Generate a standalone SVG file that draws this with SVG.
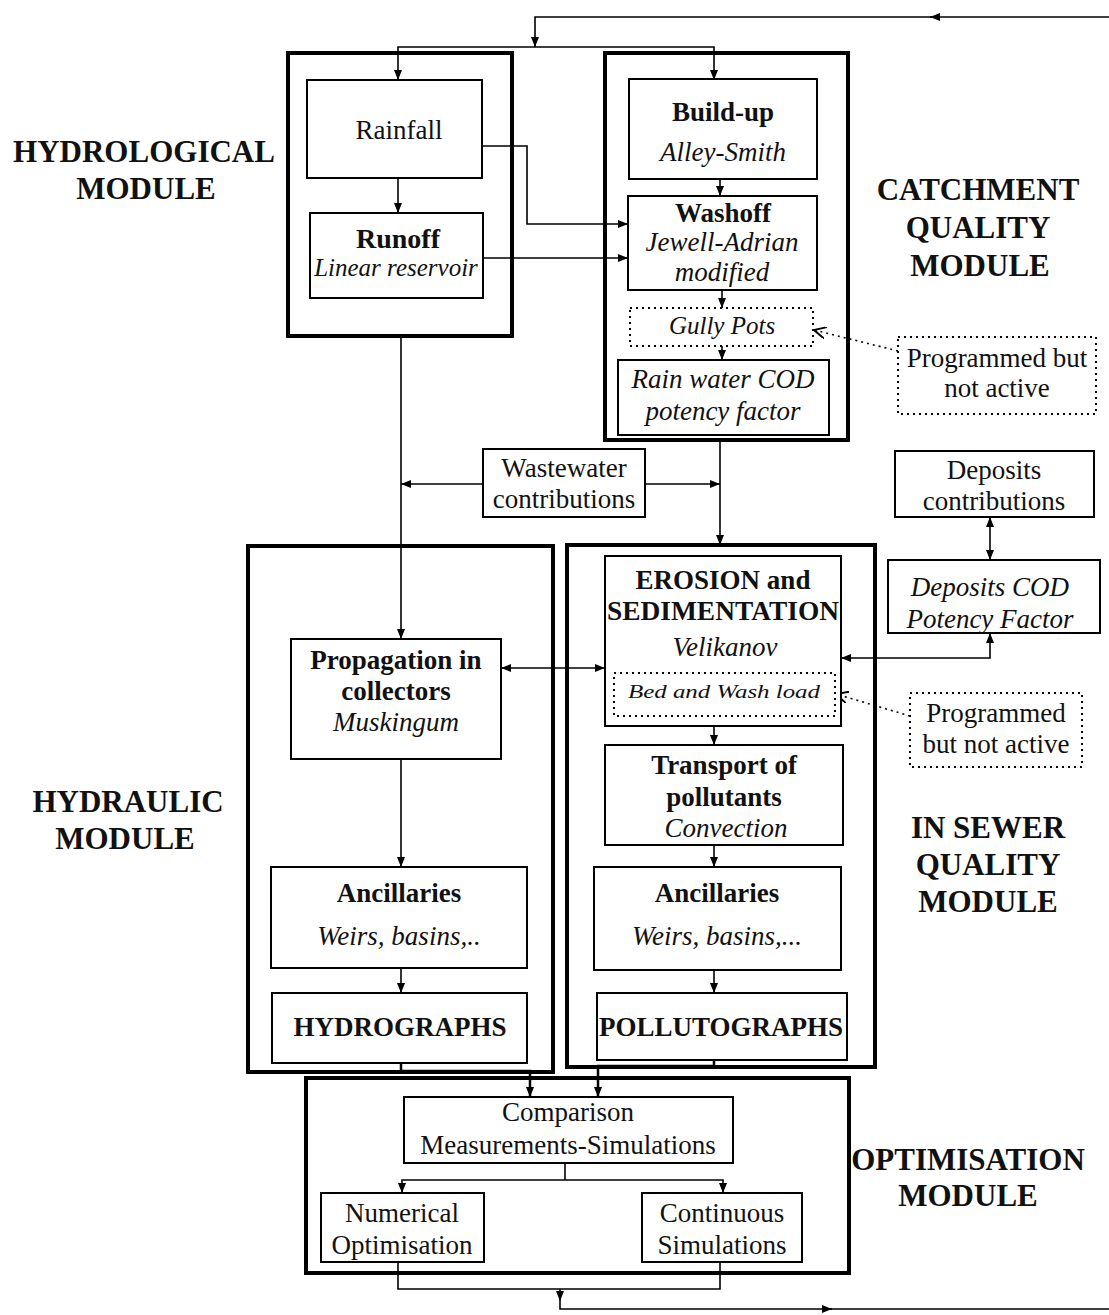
<svg xmlns="http://www.w3.org/2000/svg" width="1109" height="1315" viewBox="0 0 1109 1315">
  <style>
    text { font-family: "Liberation Serif", "Times New Roman", serif; fill: #111; text-anchor: middle; }
    .mod { font-size: 31px; font-weight: bold; }
    .t { font-size: 27px; }
    .b { font-size: 27px; font-weight: bold; }
    .i { font-size: 27px; font-style: italic; }
    .outer { fill: none; stroke: #000; stroke-width: 4; }
    .box { fill: #fff; stroke: #000; stroke-width: 2; }
    .dot { fill: #fff; stroke: #000; stroke-width: 2; stroke-dasharray: 2 4; }
    .c { fill: none; stroke: #000; stroke-width: 1.6; }
    .cd { fill: none; stroke: #000; stroke-width: 1.6; stroke-dasharray: 2 4; }
    .a { marker-end: url(#ah); }
    .aa { marker-start: url(#ah); marker-end: url(#ah); }
    .o { marker-end: url(#oh); }
  </style>
  <defs>
    <marker id="ah" viewBox="0 0 10 10" refX="10" refY="5" markerWidth="10" markerHeight="10" markerUnits="userSpaceOnUse" orient="auto-start-reverse">
      <path d="M0,1 L10,5 L0,9 z" fill="#000"/>
    </marker>
    <marker id="oh" viewBox="0 0 10 10" refX="10" refY="5" markerWidth="12" markerHeight="12" markerUnits="userSpaceOnUse" orient="auto">
      <path d="M0,0 L10,5 L0,10" fill="none" stroke="#000" stroke-width="1.6"/>
    </marker>
  </defs>
  <rect width="1109" height="1315" fill="#fff"/>

  <!-- module labels -->
  <g id="labels">
    <text class="mod" x="144" y="162">HYDROLOGICAL</text>
    <text class="mod" x="146" y="199">MODULE</text>
    <text class="mod" x="978" y="200">CATCHMENT</text>
    <text class="mod" x="978" y="238">QUALITY</text>
    <text class="mod" x="980" y="276">MODULE</text>
    <text class="mod" x="128" y="812">HYDRAULIC</text>
    <text class="mod" x="125" y="849">MODULE</text>
    <text class="mod" x="988" y="838">IN SEWER</text>
    <text class="mod" x="988" y="875">QUALITY</text>
    <text class="mod" x="988" y="912">MODULE</text>
    <text class="mod" x="968" y="1170">OPTIMISATION</text>
    <text class="mod" x="968" y="1206">MODULE</text>
  </g>

  <!-- module frames -->
  <g id="modules">
    <rect id="hydrological-module" class="outer" x="288" y="53" width="224" height="283"/>
    <rect id="catchment-module" class="outer" x="605" y="53" width="243" height="387"/>
    <rect id="hydraulic-module" class="outer" x="248" y="546" width="305" height="526"/>
    <rect id="sewer-module" class="outer" x="567" y="545" width="308" height="522"/>
    <rect id="optimisation-module" class="outer" x="306" y="1078" width="543" height="195"/>
  </g>

  <!-- connectors -->
  <g id="connectors">
    <path class="c a" d="M1109,17 H930"/>
    <path class="c a" d="M932,17 H535 V47"/>
    <path class="c aa" d="M398,80 V47 H714 V80"/>
    <path class="c a" d="M398,178 V213"/>
    <path class="c a" d="M482,146 H527 V224 H628"/>
    <path class="c a" d="M483,258 H628"/>
    <path class="c a" d="M720,179 V196"/>
    <path class="c a" d="M722,290 V308"/>
    <path class="c a" d="M722,346 V360"/>
    <path class="cd o" d="M898,351 L814,330"/>
    <path class="c a" d="M401,336 V639"/>
    <path class="c a" d="M483,484 H401"/>
    <path class="c a" d="M645,484 H720"/>
    <path class="c a" d="M720,440 V545"/>
    <path class="c aa" d="M501,668 H605"/>
    <path class="c aa" d="M990,633 V658 H841"/>
    <path class="c aa" d="M990,517 V560"/>
    <path class="cd o" d="M910,716 L836,694"/>
    <path class="c a" d="M714,726 V745"/>
    <path class="c a" d="M714,845 V867"/>
    <path class="c a" d="M714,970 V993"/>
    <path class="c a" d="M401,759 V867"/>
    <path class="c a" d="M401,968 V993"/>
    <path class="c a" d="M401,1063 V1071 H530 V1097" style="stroke-width:2.5"/>
    <path class="c a" d="M714,1060 V1066 H598 V1097" style="stroke-width:2.5"/>
    <path class="c" d="M565,1163 V1180"/>
    <path class="c aa" d="M402,1193 V1180 H723 V1193"/>
    <path class="c" d="M398,1262 V1289 H720 V1262"/>
    <path class="c a" d="M560,1289 V1301"/>
    <path class="c a" d="M560,1301 V1309 H832"/>
    <path class="c" d="M830,1309 H1109"/>
  </g>

  <!-- process nodes -->
  <g id="rainfall">
    <rect class="box" x="307" y="80" width="175" height="98"/>
    <text class="t" x="399" y="139">Rainfall</text>
  </g>
  <g id="runoff">
    <rect class="box" x="310" y="213" width="173" height="85"/>
    <text class="b" x="398" y="248" style="font-size:28px">Runoff</text>
    <text class="i" x="396" y="276" style="font-size:25px">Linear reservoir</text>
  </g>
  <g id="build-up">
    <rect class="box" x="629" y="79" width="188" height="100"/>
    <text class="b" x="723" y="121">Build-up</text>
    <text class="i" x="723" y="161">Alley-Smith</text>
  </g>
  <g id="washoff">
    <rect class="box" x="628" y="196" width="189" height="94"/>
    <text class="b" x="723" y="222">Washoff</text>
    <text class="i" x="722" y="251">Jewell-Adrian</text>
    <text class="i" x="722" y="281">modified</text>
  </g>
  <g id="gully-pots">
    <rect class="dot" x="630" y="308" width="183" height="38"/>
    <text class="i" x="722" y="334" style="font-size:25px">Gully Pots</text>
  </g>
  <g id="rain-cod">
    <rect class="box" x="618" y="360" width="211" height="75"/>
    <text class="i" x="723" y="388">Rain water COD</text>
    <text class="i" x="723" y="420">potency factor</text>
  </g>
  <g id="programmed-1">
    <rect class="dot" x="898" y="337" width="198" height="77"/>
    <text class="t" x="997" y="367">Programmed but</text>
    <text class="t" x="997" y="397">not active</text>
  </g>
  <g id="wastewater">
    <rect class="box" x="483" y="449" width="162" height="68"/>
    <text class="t" x="564" y="477">Wastewater</text>
    <text class="t" x="564" y="508">contributions</text>
  </g>
  <g id="deposits-contributions">
    <rect class="box" x="895" y="451" width="199" height="66"/>
    <text class="t" x="994" y="479">Deposits</text>
    <text class="t" x="994" y="510">contributions</text>
  </g>
  <g id="deposits-cod">
    <rect class="box" x="888" y="560" width="212" height="73"/>
    <text class="i" x="990" y="596">Deposits COD</text>
    <text class="i" x="990" y="628">Potency Factor</text>
  </g>
  <g id="propagation">
    <rect class="box" x="291" y="639" width="210" height="120"/>
    <text class="b" x="396" y="669">Propagation in</text>
    <text class="b" x="396" y="700">collectors</text>
    <text class="i" x="396" y="731">Muskingum</text>
  </g>
  <g id="erosion">
    <rect class="box" x="605" y="556" width="236" height="170"/>
    <text class="b" x="723" y="589">EROSION and</text>
    <text class="b" x="723" y="620" textLength="232" lengthAdjust="spacingAndGlyphs">SEDIMENTATION</text>
    <text class="i" x="725" y="656">Velikanov</text>
    <rect class="dot" x="614" y="673" width="221" height="43" style="fill:none"/>
    <text x="724" y="698" style="font-size:19px;font-style:italic" textLength="192" lengthAdjust="spacingAndGlyphs">Bed and Wash load</text>
  </g>
  <g id="programmed-2">
    <rect class="dot" x="910" y="693" width="172" height="74"/>
    <text class="t" x="996" y="722">Programmed</text>
    <text class="t" x="996" y="753">but not active</text>
  </g>
  <g id="transport">
    <rect class="box" x="605" y="745" width="238" height="100"/>
    <text class="b" x="724" y="774">Transport of</text>
    <text class="b" x="724" y="806">pollutants</text>
    <text class="i" x="726" y="837">Convection</text>
  </g>
  <g id="ancillaries-hydraulic">
    <rect class="box" x="271" y="867" width="256" height="101"/>
    <text class="b" x="399" y="902">Ancillaries</text>
    <text class="i" x="399" y="945">Weirs, basins,..</text>
  </g>
  <g id="ancillaries-sewer">
    <rect class="box" x="594" y="867" width="247" height="103"/>
    <text class="b" x="717" y="902">Ancillaries</text>
    <text class="i" x="717" y="945">Weirs, basins,...</text>
  </g>
  <g id="hydrographs">
    <rect class="box" x="272" y="993" width="255" height="70"/>
    <text class="b" x="400" y="1036">HYDROGRAPHS</text>
  </g>
  <g id="pollutographs">
    <rect class="box" x="597" y="993" width="250" height="67"/>
    <text class="b" x="721" y="1036" textLength="244" lengthAdjust="spacingAndGlyphs">POLLUTOGRAPHS</text>
  </g>
  <g id="comparison">
    <rect class="box" x="404" y="1097" width="329" height="66"/>
    <text class="t" x="568" y="1121">Comparison</text>
    <text class="t" x="568" y="1154">Measurements-Simulations</text>
  </g>
  <g id="numerical">
    <rect class="box" x="321" y="1193" width="163" height="69"/>
    <text class="t" x="402" y="1222">Numerical</text>
    <text class="t" x="402" y="1254">Optimisation</text>
  </g>
  <g id="continuous">
    <rect class="box" x="642" y="1193" width="160" height="69"/>
    <text class="t" x="722" y="1222">Continuous</text>
    <text class="t" x="722" y="1254">Simulations</text>
  </g>
</svg>
